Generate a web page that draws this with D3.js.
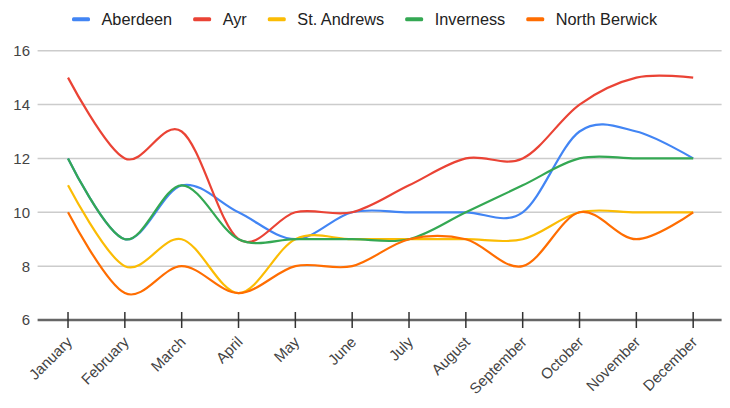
<!DOCTYPE html>
<html>
<head>
<meta charset="utf-8">
<script src="https://cdn.jsdelivr.net/npm/d3@7"></script>
<style>
  body { margin: 0; background: #fff; }
  text { font-family: Arial, "Liberation Sans", sans-serif; }
</style>
</head>
<body>
<svg id="chart" width="730" height="408"></svg>
<script>
// data
var months = ["January", "February", "March", "April", "May", "June", "July",
  "August", "September", "October", "November", "December"];
var seriesNames = ["Aberdeen", "Ayr", "St. Andrews", "Inverness", "North Berwick"];
var seriesColors = ["#4285f4", "#ea4335", "#fbbc04", "#34a853", "#ff6d01"];
var aberdeen = [12, 9, 11, 10, 9, 10, 10, 10, 10, 13, 13, 12];
var ayr = [15, 12, 13, 9, 10, 10, 11, 12, 12, 14, 15, 15];
var stAndrews = [11, 8, 9, 7, 9, 9, 9, 9, 9, 10, 10, 10];
var inverness = [12, 9, 11, 9, 9, 9, 9, 10, 11, 12, 12, 12];
var northBerwick = [10, 7, 8, 7, 8, 8, 9, 9, 8, 10, 9, 10];
var yTicks = [6, 8, 10, 12, 14, 16];

var allSeries = [aberdeen, ayr, stAndrews, inverness, northBerwick];

var svg = d3.select("#chart");

// plot area
var plotL = 39.6, plotR = 721.6, plotT = 50.7, plotB = 320;

var x = d3.scalePoint()
  .domain(months)
  .range([plotL, plotR])
  .padding(0.5);

var y = d3.scaleLinear()
  .domain([6, 16])
  .range([plotB, plotT]);

// gridlines
svg.append("g")
  .selectAll("line")
  .data(yTicks.slice(1))
  .enter().append("line")
  .attr("x1", plotL - 2)
  .attr("x2", plotR)
  .attr("y1", function(d){ return y(d); })
  .attr("y2", function(d){ return y(d); })
  .attr("stroke", "#cccccc")
  .attr("stroke-width", 1.5);

// y labels
svg.append("g")
  .selectAll("text")
  .data(yTicks)
  .enter().append("text")
  .attr("x", 30)
  .attr("y", function(d){ return y(d); })
  .attr("dy", "0.36em")
  .attr("text-anchor", "end")
  .attr("font-size", 15)
  .attr("fill", "#444")
  .text(function(d){ return d; });

// lines
var line = d3.line()
  .x(function(d, i){ return x(months[i]); })
  .y(function(d){ return y(d); })
  .curve(d3.curveCardinal.tension(0));

svg.append("g")
  .selectAll("path")
  .data(allSeries)
  .enter().append("path")
  .attr("d", line)
  .attr("fill", "none")
  .attr("stroke", function(d, i){ return seriesColors[i]; })
  .attr("stroke-width", 2.2);

// x axis
var xAxis = svg.append("g")
  .attr("transform", "translate(0," + plotB + ")");

xAxis.append("line")
  .attr("x1", plotL - 2)
  .attr("x2", plotR)
  .attr("stroke", "#666")
  .attr("stroke-width", 2.5);

xAxis.selectAll(".tick")
  .data(months)
  .enter().append("line")
  .attr("class", "tick")
  .attr("x1", function(d){ return x(d); })
  .attr("x2", function(d){ return x(d); })
  .attr("y1", -8)
  .attr("y2", 8)
  .attr("stroke", "#333")
  .attr("stroke-width", 1.5);

xAxis.selectAll(".lbl")
  .data(months)
  .enter().append("text")
  .attr("class", "lbl")
  .attr("text-anchor", "end")
  .attr("font-size", 15)
  .attr("fill", "#444")
  .attr("transform", function(d){ return "translate(" + (x(d) + 5) + ",23) rotate(-45)"; })
  .text(function(d){ return d; });

// legend
var legend = svg.append("g");
var lx = 72;
seriesNames.forEach(function(name, i){
  legend.append("rect")
    .attr("x", lx)
    .attr("y", 17.3)
    .attr("width", 18)
    .attr("height", 4)
    .attr("rx", 1.5)
    .attr("fill", seriesColors[i]);
  var t = legend.append("text")
    .attr("x", lx + 29.5)
    .attr("y", 19)
    .attr("dy", "0.36em")
    .attr("font-size", 16.3)
    .attr("fill", "#222")
    .text(name);
  lx += 29.5 + t.node().getComputedTextLength() + 21;
});
</script>
</body>
</html>
